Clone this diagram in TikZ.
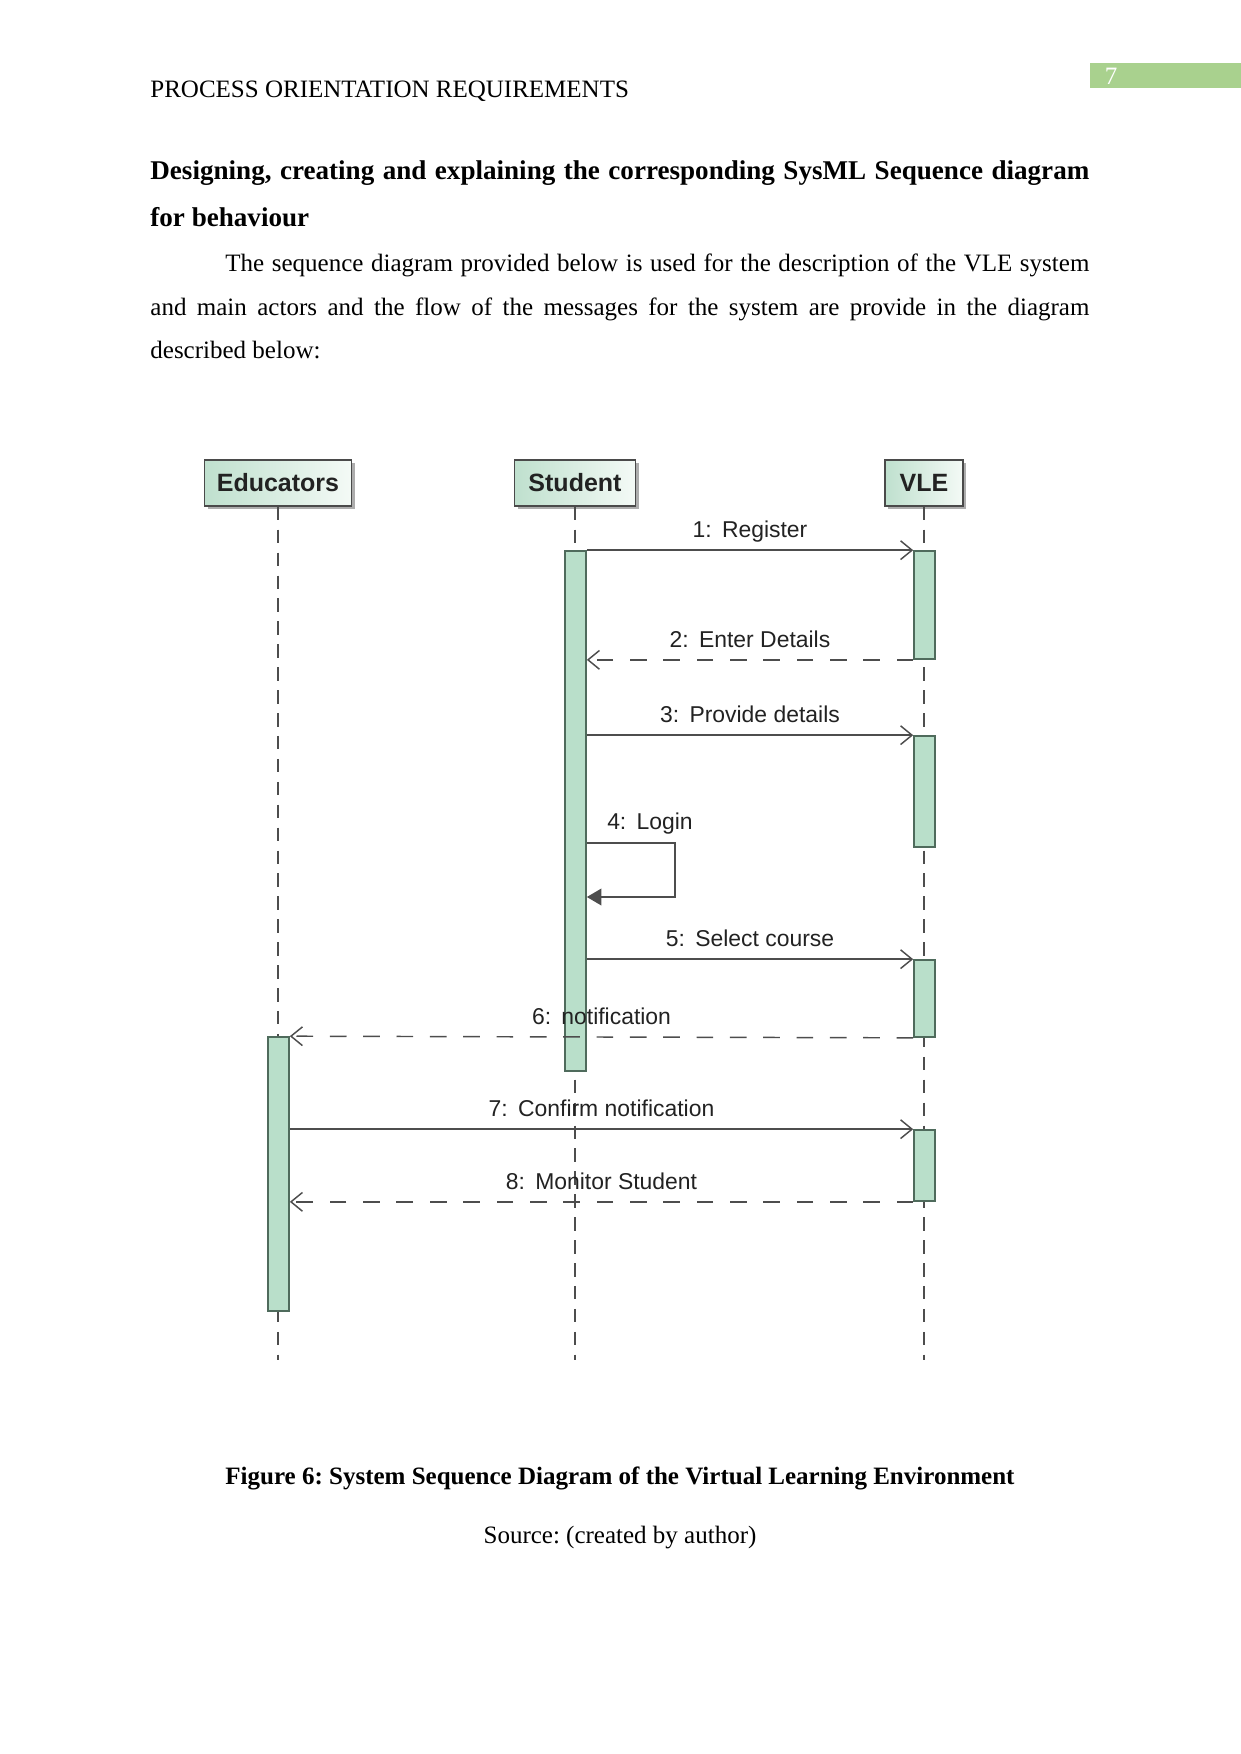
\documentclass[tikz,border=0pt]{standalone}
\usepackage{fontspec}
\setmainfont{Liberation Serif}
\newfontfamily\diafont{Liberation Sans}
\usetikzlibrary{arrows.meta,shadows,fit}
\frenchspacing
\definecolor{pagegreen}{HTML}{A9D18E}
\definecolor{barfill}{HTML}{B9DFCA}
\definecolor{barline}{HTML}{4F6B5C}
\definecolor{boxleft}{HTML}{BFE0CE}
\definecolor{boxright}{HTML}{F4FAF6}
\definecolor{boxline}{HTML}{4A4A4A}
\definecolor{msgcol}{HTML}{4D4D4D}
\definecolor{lblcol}{HTML}{222222}
\begin{document}
\begin{tikzpicture}[x=0.48pt,y=-0.48pt,
  body/.style={anchor=base west,inner sep=0pt,font=\fontsize{12}{14}\selectfont},
  bodyb/.style={body,font=\bfseries\fontsize{12}{14}\selectfont},
  headb/.style={body,font=\bfseries\fontsize{13}{15}\selectfont},
  actor/.style={draw=boxline,line width=0.8pt,left color=boxleft,right color=boxright,
    minimum height=22pt,inner sep=0pt,font=\diafont\bfseries\fontsize{12}{14}\selectfont,text=lblcol,
    drop shadow={shadow xshift=1.6pt,shadow yshift=-1.6pt,fill=black!40,opacity=0.8}},
  lifeline/.style={draw=msgcol,line width=0.7pt,dash pattern=on 6.5pt off 4.5pt},
  bar/.style={draw=barline,fill=barfill,line width=0.8pt,inner sep=0pt},
  msg/.style={draw=msgcol,line width=0.7pt,-{Straight Barb[length=5.5pt,width=9pt]}},
  ret/.style={msg,dash pattern=on 8pt off 8pt},
  selfmsg/.style={draw=msgcol,line width=0.8pt,-{Triangle[length=7pt,width=8pt]}},
  lblfont/.style={font=\diafont\fontsize{11}{13}\selectfont,text=lblcol,inner sep=1pt},
  lbl/.style={lblfont,above=2.5pt,text height=8pt,text depth=2.3pt}]
\useasboundingbox (0,0) rectangle (1241,1754);
\fill[white] (0,0) rectangle (1241,1754);

% page header
\node[body] (hdr) at (150,97) {PROCESS ORIENTATION REQUIREMENTS};
\node[fit={(1090,63)(1241,88)},fill=pagegreen,inner sep=0pt] (pgbox) {};
\node[text=white,inner sep=0pt,font=\fontsize{12}{14}\selectfont] (pgnum) at (1111,76) {7};

% heading and paragraph
\node[headb] (h1) at (150,179) {\makebox[450.7pt][s]{Designing, creating and explaining the corresponding SysML Sequence diagram}};
\node[headb] (h2) at (150,226) {for behaviour};
\node[body] (p1) at (225,271) {\makebox[414.7pt][s]{The sequence diagram provided below is used for the description of the VLE system}};
\node[body] (p2) at (150,315) {\makebox[450.7pt][s]{and main actors and the flow of the messages for the system are provide in the diagram}};
\node[body] (p3) at (150,358) {described below:};

% actors
\node[actor,minimum width=70.6pt] (edu) at (278,483) {Educators};
\node[actor,minimum width=58pt] (stu) at (575,483) {Student};
\node[actor,minimum width=37.4pt] (vle) at (924,483) {VLE};

% lifelines
\coordinate (eduend) at (278,1360);
\coordinate (stuend) at (575,1360);
\coordinate (vleend) at (924,1360);
\draw[lifeline] (edu) -- (eduend);
\draw[lifeline] (stu) -- (stuend);
\draw[lifeline] (vle) -- (vleend);

% activation bars
\node[bar,fit={(565,551)(586,1071)}] (sbar) {};
\node[bar,fit={(914,551)(935,659)}] (v1) {};
\node[bar,fit={(914,736)(935,847)}] (v2) {};
\node[bar,fit={(914,960)(935,1037)}] (v3) {};
\node[bar,fit={(914,1130)(935,1201)}] (v4) {};
\node[bar,fit={(268,1037)(289,1311)}] (ebar) {};

% messages
\draw[msg] (sbar.north east) -- (v1.north west) node[midway,lbl] (m1) {1:\hspace{0.45em}Register};
\draw[ret] (v1.south west) -- (sbar.east |- v1.south west) node[midway,lbl] (m2) {2:\hspace{0.45em}Enter Details};
\draw[msg] (sbar.east |- v2.north west) -- (v2.north west) node[midway,lbl] (m3) {3:\hspace{0.45em}Provide details};
\coordinate (lga) at (675,843);
\coordinate (lgb) at (675,897);
\draw[selfmsg] (sbar.east |- lga) -- (lga) -- (lgb) -- (sbar.east |- lgb);
\node[lblfont] (m4) at (650,824) {4:\hspace{0.45em}Login};
\draw[msg] (sbar.east |- v3.north west) -- (v3.north west) node[midway,lbl] (m5) {5:\hspace{0.45em}Select course};
\draw[ret] (v3.south west) -- (ebar.north east) node[midway,lbl] (m6) {6:\hspace{0.45em}notification};
\draw[msg] (ebar.east |- v4.north west) -- (v4.north west) node[midway,lbl] (m7) {7:\hspace{0.45em}Confirm notification};
\draw[ret] (v4.south west) -- (ebar.east |- v4.south west) node[midway,lbl] (m8) {8:\hspace{0.45em}Monitor Student};

% caption
\node[bodyb,anchor=base] (cap) at (620,1484) {Figure 6: System Sequence Diagram of the Virtual Learning Environment};
\node[body,anchor=base] (src) at (620,1543) {Source: (created by author)};
\end{tikzpicture}
\end{document}
